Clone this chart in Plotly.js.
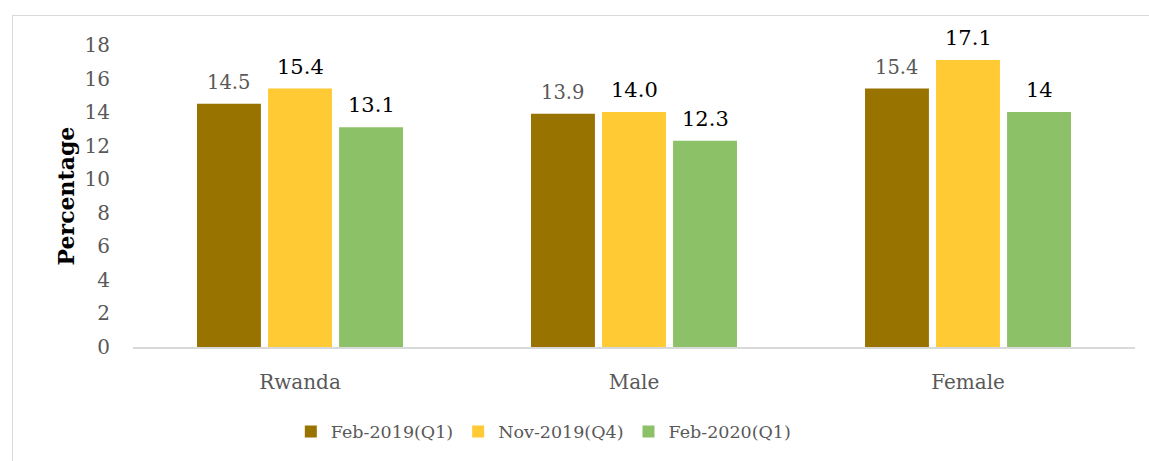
<!DOCTYPE html>
<html>
<head>
<meta charset="utf-8">
<script src="https://cdn.plot.ly/plotly-3.0.1.min.js"></script>
<style>
body{margin:0;padding:0;background:#fff;}
#wrap{position:relative;width:1149px;height:461px;}
#chart{position:absolute;left:0;top:0;width:1149px;height:461px;}
#frame{position:absolute;left:12px;top:15px;width:1140px;height:450px;border:1px solid #d9d9d9;pointer-events:none;}
</style>
</head>
<body>
<div id="wrap"><div id="chart"></div><div id="frame"></div></div>
<script>
const categories = ["Rwanda", "Male", "Female"];
const seriesNames = ["Feb-2019(Q1)", "Nov-2019(Q4)", "Feb-2020(Q1)"];
const feb2019 = [14.5, 13.9, 15.4];
const nov2019 = [15.4, 14.0, 17.1];
const feb2020 = [13.1, 12.3, 14];
const feb2019Labels = ["14.5", "13.9", "15.4"];
const nov2019Labels = ["15.4", "14.0", "17.1"];
const feb2020Labels = ["13.1", "12.3", "14"];
const yTicks = [0, 2, 4, 6, 8, 10, 12, 14, 16, 18];

const FONT = "DejaVu Serif, Liberation Serif, serif";
const colors = ["#997300", "#ffca33", "#8dc168"];
const labelColors = ["#595959", "#000000", "#000000"];
const labelSizes = [19.5, 21, 21];
const values = [feb2019, nov2019, feb2020];
const labels = [feb2019Labels, nov2019Labels, feb2020Labels];

const W = 1149, H = 461;
const margin = {l: 133, r: 14, t: 45, b: 111};
const bargap = 0.362, bargroupgap = 0.1;

const traces = values.map((v, i) => ({
  type: "bar",
  name: seriesNames[i],
  x: categories,
  y: v,
  marker: {color: colors[i]},
  hoverinfo: "none"
}));

// label positions derived from the bar geometry of the grouped layout
const plotW = W - margin.l - margin.r;
const catW = plotW / categories.length;
const slotW = catW * (1 - bargap) / values.length;
const annotations = [];
values.forEach((v, i) => {
  v.forEach((val, j) => {
    annotations.push({
      xref: "x", yref: "y",
      x: categories[j], y: val,
      xshift: (i - (values.length - 1) / 2) * slotW,
      yshift: 8,
      yanchor: "bottom", xanchor: "center",
      text: labels[i][j],
      showarrow: false,
      font: {family: FONT, size: labelSizes[i], color: labelColors[i]}
    });
  });
});

const layout = {
  width: W, height: H,
  margin: margin,
  paper_bgcolor: "rgba(0,0,0,0)",
  plot_bgcolor: "rgba(0,0,0,0)",
  barmode: "group",
  bargap: bargap,
  bargroupgap: bargroupgap,
  font: {family: FONT, color: "#595959", size: 19},
  showlegend: true,
  legend: {
    orientation: "h", x: 0.41, xanchor: "center", y: -0.28, yanchor: "middle",
    font: {family: FONT, size: 17.5, color: "#595959"},
    traceorder: "normal", itemwidth: 30
  },
  annotations: annotations,
  xaxis: {
    type: "category",
    showline: true, linecolor: "#d9d9d9", linewidth: 1.5,
    showgrid: false, zeroline: false, ticks: "",
    tickfont: {family: FONT, size: 20, color: "#595959"},
    ticklabelstandoff: 16
  },
  yaxis: {
    range: [0, 18],
    tickvals: yTicks,
    ticktext: yTicks.map(String),
    showgrid: false, zeroline: false, showline: false, ticks: "",
    tickfont: {family: FONT, size: 20, color: "#595959"},
    ticklabelstandoff: 22,
    title: {text: "<b>Percentage</b>", font: {family: FONT, size: 22, color: "#000000"}, standoff: 3}
  }
};

Plotly.newPlot("chart", traces, layout, {displayModeBar: false, staticPlot: true});
</script>
</body>
</html>
